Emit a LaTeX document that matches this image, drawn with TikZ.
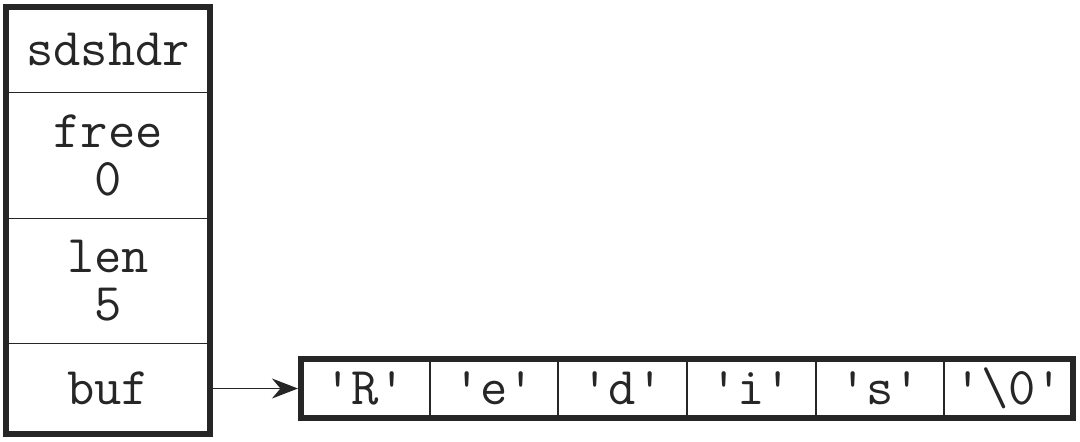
\documentclass[tikz,border=0pt]{standalone}
\usepackage{fontspec}
\usetikzlibrary{positioning,arrows.meta}
\newcommand\chr[1]{\char"27#1\char"27}
\colorlet{ink}{black!85}
\tikzset{
  field/.style={draw=ink, text=ink, line width=0.75pt, minimum width=102pt, inner sep=0pt, outer sep=0pt, align=center, font=\ttfamily\fontsize{26.5}{24}\selectfont},
  cell/.style={draw=ink, text=ink, line width=1pt, minimum width=64.33pt, minimum height=29.5pt, inner sep=0pt, outer sep=0pt, font=\ttfamily\fontsize{26.5}{24}\selectfont},
  outline/.style={draw=ink, line width=3pt},
}
\begin{document}
\begin{tikzpicture}[x=0.5pt,y=-0.5pt]
    \useasboundingbox (0,0) rectangle (1080,441);

    % sdshdr struct
    \node[field, minimum height=43pt] (sdshdr) at (108,49.5) {sdshdr};
    \node[field, minimum height=63pt, below=0pt of sdshdr] (free) {free\\0};
    \node[field, minimum height=62.5pt, below=0pt of free] (len) {len\\5};
    \node[field, minimum height=45pt, below=0pt of len] (buf) {buf};
    \draw[outline] (sdshdr.north west) rectangle (buf.south east);

    % buf array
    \node[cell] (c1) at (365.3,388.5) {\chr{R}};
    \foreach \ch [count=\i from 2, evaluate=\i as \j using int(\i-1)] in {e,d,i,s,\textbackslash 0}
        \node[cell, right=0pt of c\j] (c\i) {\chr{\ch}};
    \draw[outline] (c1.north west) rectangle (c6.south east);

    \draw[-{Stealth[length=13pt,width=10pt]}, draw=ink, fill=ink, line width=0.75pt, shorten >=1.5pt] (buf.east) -- (c1.west);
\end{tikzpicture}
\end{document}
